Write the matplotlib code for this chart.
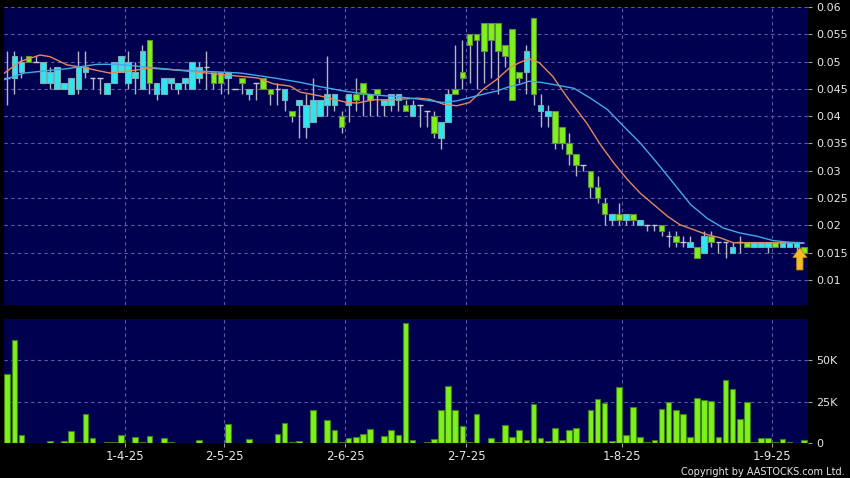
"""Candlestick + volume chart in the AASTOCKS dark style."""
import numpy as np
import matplotlib
matplotlib.use('Agg')
import matplotlib.pyplot as plt

# daily prices (one entry per trading session with trades)
opens = [0.047, 0.047, 0.048, 0.051, 0.050, 0.046, 0.046, 0.045, 0.045, 0.044,
         0.045, 0.048, 0.047, 0.047, 0.044, 0.046, 0.048, 0.046, 0.047, 0.045,
         0.054, 0.044, 0.044, 0.046, 0.045, 0.046, 0.045, 0.047, 0.049, 0.048,
         0.048, 0.047, 0.045, 0.047, 0.044, 0.046, 0.047, 0.045, 0.045, 0.043,
         0.041, 0.042, 0.038, 0.039, 0.040, 0.042, 0.042, 0.040, 0.042, 0.044,
         0.046, 0.044, 0.045, 0.042, 0.042, 0.043, 0.042, 0.040, 0.042, 0.041,
         0.040, 0.036, 0.039, 0.045, 0.048, 0.055, 0.055, 0.057, 0.057, 0.057,
         0.053, 0.056, 0.048, 0.048, 0.058, 0.041, 0.040, 0.041, 0.038, 0.035,
         0.033, 0.031, 0.030, 0.027, 0.024, 0.021, 0.022, 0.021, 0.022, 0.020,
         0.020, 0.020, 0.020, 0.018, 0.018, 0.017, 0.016, 0.016, 0.015, 0.018,
         0.017, 0.017, 0.015, 0.017, 0.017, 0.016, 0.016, 0.016, 0.017, 0.016,
         0.016, 0.016, 0.016]
highs = [0.052, 0.052, 0.051, 0.051, 0.051, 0.050, 0.049, 0.049, 0.046, 0.047,
         0.052, 0.052, 0.047, 0.047, 0.046, 0.050, 0.051, 0.052, 0.050, 0.053,
         0.054, 0.046, 0.047, 0.047, 0.046, 0.047, 0.050, 0.050, 0.052, 0.048,
         0.048, 0.048, 0.045, 0.047, 0.045, 0.046, 0.047, 0.045, 0.046, 0.045,
         0.041, 0.043, 0.044, 0.047, 0.043, 0.051, 0.044, 0.041, 0.044, 0.047,
         0.046, 0.044, 0.045, 0.043, 0.044, 0.044, 0.043, 0.043, 0.042, 0.041,
         0.041, 0.039, 0.045, 0.053, 0.054, 0.055, 0.055, 0.057, 0.057, 0.057,
         0.053, 0.056, 0.048, 0.053, 0.058, 0.044, 0.042, 0.041, 0.038, 0.037,
         0.033, 0.031, 0.030, 0.029, 0.025, 0.022, 0.024, 0.022, 0.022, 0.021,
         0.020, 0.020, 0.020, 0.019, 0.019, 0.018, 0.018, 0.016, 0.019, 0.019,
         0.017, 0.017, 0.017, 0.018, 0.017, 0.017, 0.017, 0.017, 0.017, 0.017,
         0.017, 0.017, 0.016]
lows = [0.042, 0.044, 0.047, 0.050, 0.050, 0.046, 0.045, 0.045, 0.045, 0.044,
        0.044, 0.047, 0.045, 0.044, 0.044, 0.046, 0.048, 0.045, 0.044, 0.045,
        0.044, 0.043, 0.044, 0.045, 0.044, 0.045, 0.045, 0.046, 0.045, 0.045,
        0.044, 0.044, 0.045, 0.044, 0.043, 0.043, 0.045, 0.042, 0.042, 0.041,
        0.039, 0.036, 0.036, 0.039, 0.040, 0.040, 0.041, 0.037, 0.039, 0.041,
        0.040, 0.040, 0.040, 0.040, 0.041, 0.041, 0.041, 0.040, 0.038, 0.038,
        0.036, 0.034, 0.039, 0.044, 0.045, 0.046, 0.045, 0.046, 0.047, 0.044,
        0.049, 0.043, 0.046, 0.044, 0.042, 0.038, 0.038, 0.034, 0.034, 0.031,
        0.029, 0.030, 0.025, 0.024, 0.020, 0.020, 0.020, 0.020, 0.020, 0.020,
        0.019, 0.019, 0.018, 0.016, 0.016, 0.016, 0.016, 0.014, 0.015, 0.016,
        0.015, 0.014, 0.015, 0.015, 0.016, 0.016, 0.016, 0.015, 0.016, 0.016,
        0.016, 0.015, 0.015]
closes = [0.047, 0.051, 0.050, 0.050, 0.050, 0.050, 0.048, 0.049, 0.046, 0.047,
          0.049, 0.049, 0.047, 0.047, 0.046, 0.050, 0.051, 0.050, 0.048, 0.052,
          0.046, 0.046, 0.047, 0.047, 0.046, 0.047, 0.050, 0.049, 0.049, 0.046,
          0.046, 0.048, 0.045, 0.046, 0.045, 0.046, 0.045, 0.044, 0.045, 0.045,
          0.040, 0.043, 0.042, 0.043, 0.043, 0.044, 0.044, 0.038, 0.044, 0.043,
          0.044, 0.043, 0.044, 0.043, 0.044, 0.044, 0.041, 0.042, 0.042, 0.041,
          0.037, 0.039, 0.044, 0.044, 0.047, 0.053, 0.054, 0.052, 0.054, 0.052,
          0.051, 0.043, 0.047, 0.052, 0.044, 0.042, 0.041, 0.035, 0.035, 0.033,
          0.031, 0.031, 0.027, 0.025, 0.022, 0.022, 0.021, 0.022, 0.021, 0.021,
          0.020, 0.020, 0.019, 0.018, 0.017, 0.017, 0.017, 0.014, 0.018, 0.017,
          0.017, 0.017, 0.016, 0.017, 0.016, 0.017, 0.017, 0.017, 0.016, 0.017,
          0.017, 0.017, 0.015]
# volume in shares
volumes = [41600, 62000, 4700, 200, 100, 100, 1000, 300, 1000, 7500,
           600, 17700, 3200, 100, 400, 600, 4700, 100, 3900, 400,
           4500, 100, 3000, 400, 100, 100, 100, 2000, 200, 200,
           100, 11600, 100, 100, 2600, 100, 100, 100, 5700, 12200,
           400, 1000, 100, 19700, 100, 14000, 8100, 800, 3000, 3900,
           5500, 8500, 100, 4500, 8100, 5100, 72000, 1600, 300, 600,
           2600, 19900, 34300, 19700, 10200, 400, 17500, 100, 3000, 600,
           10600, 3900, 8100, 1800, 23500, 2800, 1200, 9300, 1800, 8100,
           9300, 800, 19700, 26800, 24000, 1200, 33500, 4900, 21500, 3700,
           600, 1600, 20700, 24600, 20100, 17700, 3700, 27200, 25800, 25400,
           3700, 38000, 32300, 14400, 24800, 600, 3200, 3000, 400, 2200,
           400, 200, 1600]

# moving average lines (session index, value)
ma_short_x = [-0.4, 1.8, 4.6, 6, 8.4, 10.7, 14.4, 16.8, 20, 23.4, 28.1, 32.8, 35.2,
              37.5, 39.8, 41.2, 44, 47.8, 49.2, 51.5, 54, 57.7, 59.4, 61.3, 63.2, 65,
              66.9, 68.8, 70.6, 72, 73.4, 74.8, 76.7, 78.6, 79.7, 81.5, 83.4, 85.3,
              87.2, 89, 90.9, 92.8, 94.6, 96.5, 98.4, 100.3, 102.1, 104, 108, 112]
ma_short = [0.0479, 0.0500, 0.0512, 0.0509, 0.0494, 0.0489, 0.0479, 0.0482, 0.0488,
            0.0485, 0.0479, 0.0473, 0.0470, 0.0459, 0.0455, 0.0444, 0.0437, 0.0425,
            0.0424, 0.0430, 0.0430, 0.0433, 0.0431, 0.0422, 0.0419, 0.0425, 0.0449,
            0.0467, 0.0488, 0.0498, 0.0505, 0.0498, 0.0473, 0.0437, 0.0418, 0.0387,
            0.0348, 0.0314, 0.0284, 0.0259, 0.0238, 0.0217, 0.0201, 0.0192, 0.0183,
            0.0177, 0.0168, 0.0168, 0.0168, 0.0167]
ma_long_x = [-0.4, 2.4, 8.4, 12.6, 15.4, 18.7, 23.4, 28.1, 32.8, 37.5, 39.8, 41.2, 44,
             47.8, 51.5, 54.5, 58, 61.3, 63.2, 65, 66.9, 68.8, 70.6, 72, 73.4, 75,
             76.8, 79.7, 82, 84.4, 86.7, 89, 91.4, 93.7, 96.1, 98.4, 100.7, 103,
             105.4, 107.7, 110, 112]
ma_long = [0.0467, 0.0479, 0.0487, 0.0495, 0.0495, 0.0491, 0.0485, 0.0482, 0.0479,
           0.0470, 0.0465, 0.0462, 0.0454, 0.0445, 0.0439, 0.0436, 0.0431, 0.0425,
           0.0428, 0.0434, 0.0440, 0.0446, 0.0454, 0.0458, 0.0464, 0.0462, 0.0458,
           0.0451, 0.0433, 0.0412, 0.0381, 0.0351, 0.0314, 0.0277, 0.0238, 0.0213,
           0.0195, 0.0186, 0.0180, 0.0172, 0.0169, 0.0168]

# month labels and the first session of each month
month_labels = ['1-4-25', '2-5-25', '2-6-25', '2-7-25', '1-8-25', '1-9-25']
month_first_idx = [17, 31, 48, 65, 87, 108]

BG = '#000050'
GRID = '#5c5ca8'
TXT = '#e6e6e6'
UP = '#2ee6f2'
DOWN = '#7ef01c'

o = np.array(opens); h = np.array(highs); l = np.array(lows); c = np.array(closes)
idx = np.arange(len(o))
w = 0.8

fig = plt.figure(figsize=(8.5, 4.78), dpi=100, facecolor='black')
ax = fig.add_axes([4/850, 1-305/478, 804/850, 298/478], facecolor=BG)
axv = fig.add_axes([4/850, 1-443/478, 804/850, 124/478], facecolor=BG)

grid_x = [i - 0.5 for i in month_first_idx]

# ---- price panel
up = c > o
down = c < o
flat = c == o
ax.vlines(idx, l, h, color='#b4b4c4', lw=1, zorder=2)
ax.bar(idx[up], (c - o)[up], bottom=o[up], width=w, color=UP, edgecolor='#7fa9ad', lw=0.8, zorder=3)
ax.bar(idx[down], (o - c)[down], bottom=c[down], width=w, color=DOWN, edgecolor='#5f8f3a', lw=0.8, zorder=3)
ax.hlines(c[flat], idx[flat] - w/2, idx[flat] + w/2, color='#c8c8d4', lw=1, zorder=3)
ax.plot(ma_short_x, ma_short, color='#e8875a', lw=1, zorder=4)
ax.plot(ma_long_x, ma_long, color='#45a8e8', lw=1, zorder=4)

# arrow marking the latest session
ax.annotate('', xy=(idx[-1] - 0.55, c[-1] + 0.0009), xytext=(0, -16), textcoords='offset points',
            arrowprops=dict(arrowstyle='simple,head_length=0.7,head_width=1.0,tail_width=0.45',
                            fc='#f7b92e', ec='#c98a10', lw=0.6, shrinkA=0, shrinkB=0), zorder=6)

ax.set_xlim(-0.46, 112.6)
ax.set_ylim(0.0054, 0.06)
yt = np.arange(0.01, 0.0601, 0.005)
ax.set_yticks(yt)
ax.set_yticklabels([('%.3f' % v).rstrip('0') for v in yt])
ax.set_xticks(grid_x)
ax.tick_params(axis='x', length=0, labelbottom=False)

# ---- volume panel
axv.bar(idx, volumes, width=w, color=DOWN, edgecolor='#3f7f18', lw=0.8, zorder=3)
axv.set_xlim(-0.46, 112.6)
axv.set_ylim(0, 74700)
axv.set_yticks([0, 25000, 50000])
axv.set_yticklabels(['0', '25K', '50K'])
axv.set_xticks(grid_x)
axv.set_xticklabels(month_labels)

for a in (ax, axv):
    a.yaxis.tick_right()
    a.grid(True, color=GRID, lw=0.8, linestyle=(0, (3, 3)), zorder=1)
    a.set_axisbelow(True)
    for s in a.spines.values():
        s.set_visible(False)
    a.tick_params(axis='y', colors='#a0a0a0', labelcolor=TXT, labelsize=8, length=3, pad=3)
axv.tick_params(axis='x', colors='#a0a0a0', labelcolor=TXT, labelsize=8.5, length=3, pad=2)

fig.text(0.994, 0.013, 'Copyright by AASTOCKS.com Ltd.', color=TXT, fontsize=7, ha='right', va='center')

fig.savefig('out.png', dpi=100, facecolor='black')
